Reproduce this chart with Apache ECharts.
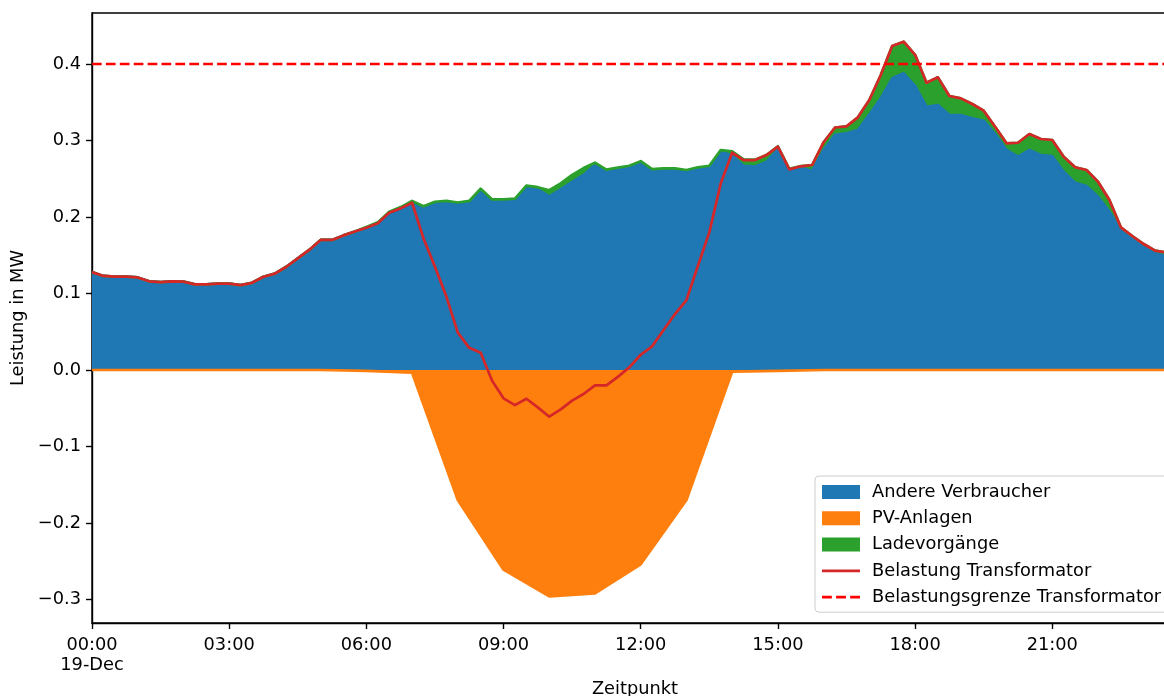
<!DOCTYPE html>
<html>
<head>
<meta charset="utf-8">
<script src="https://cdn.jsdelivr.net/npm/echarts@6/dist/echarts.min.js"></script>
<style>
  html, body { margin: 0; padding: 0; background: #fff; }
  #chart { width: 1164px; height: 696px; }
</style>
</head>
<body>
<div id="chart"></div>
<script>
// Power flows at the transformer, 15-minute resolution, 19 December (MW)
const dayLabel = '19-Dec';
const slotsPerDay = 96;       // 15-minute slots, 00:00 .. 23:45
const slotMinutes = 15;

// Other consumers (stacked base, positive side)
const andere = [
  0.128, 0.123, 0.122, 0.122, 0.121, 0.116, 0.115, 0.116, 0.1155, 0.112,
  0.112, 0.113, 0.113, 0.111, 0.114, 0.122, 0.126, 0.135, 0.146, 0.157,
  0.170, 0.170, 0.176, 0.181, 0.186, 0.192, 0.205, 0.211, 0.219, 0.213,
  0.219, 0.220, 0.218, 0.220, 0.235, 0.222, 0.222, 0.223, 0.239, 0.236,
  0.227, 0.236, 0.246, 0.255, 0.268, 0.261, 0.263, 0.266, 0.2715, 0.261,
  0.262, 0.262, 0.260, 0.263, 0.265, 0.286, 0.280, 0.267, 0.266, 0.272,
  0.2885, 0.262, 0.2645, 0.2605, 0.2876, 0.3075, 0.3094, 0.3137, 0.3338, 0.3551,
  0.3813, 0.3878, 0.3715, 0.3442, 0.3464, 0.3333, 0.3333, 0.329, 0.3259, 0.3085,
  0.2876, 0.2789, 0.2876, 0.281, 0.2797, 0.2592, 0.2449, 0.2405, 0.2266, 0.207,
  0.183, 0.1721, 0.1621, 0.1534, 0.148
];

// EV charging (stacked on top of other consumers)
const lade = [
  0, 0, 0, 0, 0, 0, 0, 0, 0, 0,
  0, 0, 0, 0, 0, 0, 0, 0, 0, 0,
  0, 0, 0, 0, 0.001, 0.001, 0.002, 0.002, 0.002, 0.001,
  0.001, 0.001, 0.001, 0.001, 0.002, 0.001, 0.001, 0.001, 0.002, 0.003,
  0.008, 0.008, 0.009, 0.009, 0.003, 0.001, 0.0015, 0.001, 0.0015, 0.0015,
  0.0015, 0.0015, 0.0015, 0.002, 0.002, 0.0015, 0.006, 0.0085, 0.009, 0.009,
  0.004, 0.001, 0.002, 0.0075, 0.010, 0.0095, 0.009, 0.0166, 0.0192, 0.0305,
  0.0422, 0.0414, 0.0405, 0.0314, 0.0362, 0.0249, 0.0218, 0.0187, 0.0131, 0.0095,
  0.0087, 0.0182, 0.0209, 0.021, 0.021, 0.0197, 0.0201, 0.0209, 0.0196, 0.0152,
  0.0035, 0.0031, 0.0026, 0.0026, 0.0054
];

// Net transformer load
const belastung = [
  0.128, 0.123, 0.122, 0.122, 0.121, 0.116, 0.115, 0.116, 0.1155, 0.112,
  0.112, 0.113, 0.113, 0.111, 0.114, 0.122, 0.126, 0.135, 0.146, 0.157,
  0.170, 0.170, 0.176, 0.181, 0.186, 0.192, 0.2057, 0.2113, 0.2187, 0.172,
  0.135, 0.096, 0.049, 0.029, 0.0227, -0.014, -0.037, -0.0458, -0.0375, -0.0488,
  -0.061, -0.0514, -0.040, -0.0314, -0.020, -0.020, -0.009, 0.0035, 0.020, 0.031,
  0.0523, 0.0732, 0.0915, 0.136, 0.180, 0.244, 0.284, 0.2745, 0.2745, 0.281,
  0.292, 0.2623, 0.2663, 0.268, 0.2978, 0.317, 0.3185, 0.3303, 0.353, 0.3856,
  0.4235, 0.4292, 0.412, 0.3756, 0.3826, 0.3582, 0.3551, 0.3477, 0.339, 0.318,
  0.2963, 0.2971, 0.3085, 0.302, 0.3007, 0.2789, 0.265, 0.2614, 0.2462, 0.2222,
  0.1865, 0.1752, 0.1647, 0.156, 0.1534
];

// PV feed-in, hourly samples (negative = generation)
const pvTimes = ['00:00', '01:00', '02:00', '03:00', '04:00', '05:00', '06:00', '07:00', '08:00', '09:00',
  '10:00', '11:00', '12:00', '13:00', '14:00', '15:00', '16:00', '17:00', '18:00', '19:00',
  '20:00', '21:00', '22:00', '23:00', '23:45'];
const pv = [0, 0, 0, 0, 0, 0, -0.001, -0.0035, -0.170, -0.261,
  -0.296, -0.292, -0.254, -0.170, -0.002, -0.001, 0, 0, 0, 0,
  0, 0, 0, 0, 0];

// Transformer load limit
const limit = 0.4;

// Axis ticks
const xTickLabels = ['00:00', '03:00', '06:00', '09:00', '12:00', '15:00', '18:00', '21:00'];
const yTickValues = [-0.3, -0.2, -0.1, 0.0, 0.1, 0.2, 0.3, 0.4];

const FONT = 'DejaVu Sans';
const FS = 17.8;
const C = { blue: '#1f77b4', orange: '#ff7f0e', green: '#2ca02c', red: '#d62728', limit: '#ff0000' };
const LW = 2.7;

const pad2 = n => String(n).padStart(2, '0');
const times = Array.from({ length: slotsPerDay }, (_, i) => {
  const m = i * slotMinutes;
  return pad2(Math.floor(m / 60)) + ':' + pad2(m % 60);
});
const tickEvery = times.indexOf(xTickLabels[1]);   // slots between labelled ticks

const chart = echarts.init(document.getElementById('chart'), null, { renderer: 'canvas' });

const areaSeries = (name, color, data, stack) => ({
  name, type: 'line', data, stack, symbol: 'none', showSymbol: false,
  lineStyle: { color, width: LW, join: 'round' },
  itemStyle: { color },
  areaStyle: { color, opacity: 1 },
  emphasis: { disabled: true }
});

// legend glyphs for the two line series (solid and dashed stroke)
const solidIcon = 'path://M0,0h38v2.7h-38z';
const dashedIcon = 'path://M0,0h9.7v2.7h-9.7zM13.9,0h9.7v2.7h-9.7zM27.8,0h9.7v2.7h-9.7z';

chart.setOption({
  animation: false,
  textStyle: { fontFamily: FONT },
  grid: {
    left: 92, top: 13, right: -14, bottom: 73,
    show: true, borderColor: '#000', borderWidth: 1.4, backgroundColor: 'transparent',
    outerBoundsMode: 'none'
  },
  xAxis: {
    type: 'category', data: times, boundaryGap: false,
    name: 'Zeitpunkt', nameLocation: 'middle', nameGap: 52,
    nameTextStyle: { fontSize: FS, color: '#000', fontFamily: FONT },
    axisLine: { show: true, onZero: false, lineStyle: { color: '#000', width: 1.4 } },
    axisTick: { show: true, length: 6, interval: tickEvery - 1, lineStyle: { color: '#000', width: 1.4 } },
    axisLabel: {
      interval: tickEvery - 1,
      formatter: (v, i) => (i === 0 ? v + '\n' + dayLabel : v),
      fontSize: FS, color: '#000', fontFamily: FONT, margin: 12, lineHeight: 20
    },
    splitLine: { show: false }
  },
  yAxis: {
    type: 'value', min: -0.3307, max: 0.4667,
    name: 'Leistung in MW', nameLocation: 'middle', nameGap: 60,
    nameTextStyle: { fontSize: FS, color: '#000', fontFamily: FONT },
    axisLine: { show: true, onZero: false, lineStyle: { color: '#000', width: 1.4 } },
    axisTick: { show: true, length: 6, customValues: yTickValues, lineStyle: { color: '#000', width: 1.4 } },
    axisLabel: {
      customValues: yTickValues,
      formatter: v => v.toFixed(1).replace('-', '\u2212'),
      fontSize: FS, color: '#000', fontFamily: FONT, margin: 11
    },
    splitLine: { show: false }
  },
  legend: {
    orient: 'vertical', left: 815, top: 476,
    itemWidth: 38, itemHeight: 14, itemGap: 8.3,
    padding: [7, 12, 6, 7],
    backgroundColor: 'rgba(255,255,255,0.8)', borderColor: '#cccccc', borderWidth: 1, borderRadius: 4,
    selectedMode: false,
    textStyle: { fontSize: FS, color: '#000', fontFamily: FONT, lineHeight: 17, padding: [0, 0, 0, 7] },
    data: [
      { name: 'Andere Verbraucher', icon: 'rect' },
      { name: 'PV-Anlagen', icon: 'rect' },
      { name: 'Ladevorgänge', icon: 'rect' },
      { name: 'Belastung Transformator', icon: solidIcon, itemStyle: { color: C.red } },
      { name: 'Belastungsgrenze Transformator', icon: dashedIcon, itemStyle: { color: C.limit } }
    ]
  },
  series: [
    areaSeries('Andere Verbraucher', C.blue, andere, 'positive'),
    areaSeries('PV-Anlagen', C.orange, pvTimes.map((t, i) => [t, pv[i]]), undefined),
    areaSeries('Ladevorgänge', C.green, lade, 'positive'),
    {
      name: 'Belastung Transformator', type: 'line', data: belastung,
      symbol: 'none', showSymbol: false,
      lineStyle: { color: C.red, width: LW, join: 'round' }, itemStyle: { color: C.red },
      emphasis: { disabled: true }
    },
    {
      name: 'Belastungsgrenze Transformator', type: 'line',
      data: [[times[0], limit], [times[times.length - 1], limit]],
      symbol: 'none', showSymbol: false,
      lineStyle: { color: C.limit, width: LW, type: [9.7, 4.2] }, itemStyle: { color: C.limit },
      emphasis: { disabled: true }
    }
  ]
});
</script>
</body>
</html>
